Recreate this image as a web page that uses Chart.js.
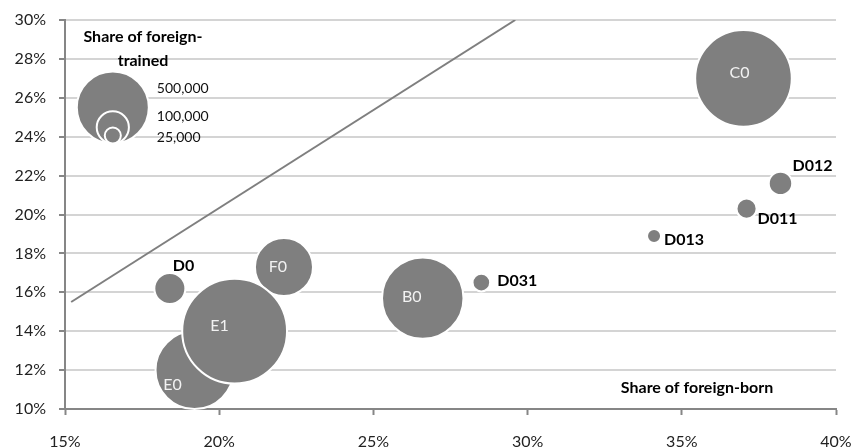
<!DOCTYPE html>
<html>
<head>
<meta charset="utf-8">
<script src="https://cdn.jsdelivr.net/npm/chart.js@4.4.1/dist/chart.umd.min.js"></script>
<style>
  html, body { margin: 0; padding: 0; background: #fff; }
  #wrap { width: 856px; height: 448px; }
</style>
</head>
<body>
<div id="wrap"><canvas id="chart" width="856" height="448"></canvas></div>
<script>
// Regions: share of foreign-born (x, %), share of foreign-trained (y, %), workforce size
const regions = ['C0', 'D012', 'D011', 'D013', 'D031', 'B0', 'D0', 'F0', 'E0', 'E1'];
const foreignBorn = [37.0, 38.2, 37.1, 34.1, 28.5, 26.6, 18.4, 22.1, 19.2, 20.5];
const foreignTrained = [27.0, 21.6, 20.3, 18.9, 16.5, 15.7, 16.2, 17.3, 12.0, 14.0];
const sizes = [900000, 53000, 39000, 19000, 30000, 640000, 93000, 325000, 587000, 1060000];

// size key (top left)
const keySizes = [500000, 100000, 25000];
const keyLabels = ['500,000', '100,000', '25,000'];
const keyX = [16.55, 16.55, 16.55];
const keyY = [25.5, 24.48, 24.06];

// reference line
const refX = [15.2, 29.6];
const refY = [15.5, 30];

// axis ranges / ticks
const xMin = 15, xMax = 40, xStep = 5;
const yMin = 10, yMax = 30, yStep = 2;

// label placement, relative to bubble centre (px)
const insideLabel = [true, false, false, false, false, true, false, true, true, true];
const labelOffsets = [[-4, -6], [12, -18], [11, 10], [10, 4], [16, -2], [-11, -1], [3, -23], [-6, 0], [-22, 15], [-15, -5]];
const keyLabelOffsets = [[44, -19], [44, -11], [44, 2]];

const GREY = '#7f7f7f';
const AXIS = '#868686';
const R_REF = 36; // radius of the 500,000 bubble
const radiusOf = s => R_REF * Math.sqrt(s / 500000);

const annotate = {
  id: 'annotate',
  afterDatasetsDraw(chart) {
    const ctx = chart.ctx;
    const a = chart.chartArea;
    ctx.save();
    ctx.textBaseline = 'middle';

    // bubble labels
    chart.getDatasetMeta(0).data.forEach((pt, i) => {
      const [dx, dy] = labelOffsets[i];
      if (insideLabel[i]) {
        ctx.fillStyle = '#f2f2f2';
        ctx.font = '16px Lato';
        ctx.textAlign = 'center';
      } else {
        ctx.fillStyle = '#000';
        ctx.font = 'bold 16px Lato';
        ctx.textAlign = 'left';
      }
      ctx.fillText(regions[i], pt.x + dx, pt.y + dy);
    });

    // key labels
    ctx.fillStyle = '#111';
    ctx.font = '14px Lato';
    ctx.textAlign = 'left';
    chart.getDatasetMeta(1).data.forEach((pt, i) => {
      const [dx, dy] = keyLabelOffsets[i];
      ctx.fillText(keyLabels[i], pt.x + dx, pt.y + dy);
    });

    // axis titles inside the plot
    ctx.fillStyle = '#000';
    ctx.font = 'bold 16px Lato';
    ctx.textAlign = 'center';
    ctx.fillText('Share of foreign-born', a.right - 139, a.bottom - 21);
    ctx.fillText('Share of foreign-', a.left + 78, a.top + 17);
    ctx.fillText('trained', a.left + 78, a.top + 41);
    ctx.restore();
  }
};

new Chart(document.getElementById('chart'), {
  type: 'bubble',
  data: {
    datasets: [
      {
        data: regions.map((r, i) => ({ x: foreignBorn[i], y: foreignTrained[i], r: radiusOf(sizes[i]) })),
        backgroundColor: GREY,
        borderColor: '#fff',
        borderWidth: 2,
        clip: false,
        order: 1
      },
      {
        data: keySizes.map((s, i) => ({ x: keyX[i], y: keyY[i], r: radiusOf(s) })),
        backgroundColor: GREY,
        borderColor: '#fff',
        borderWidth: 2,
        clip: false,
        order: 2
      },
      {
        type: 'line',
        data: refX.map((x, i) => ({ x: x, y: refY[i] })),
        borderColor: GREY,
        borderWidth: 2,
        pointRadius: 0,
        order: 3
      }
    ]
  },
  options: {
    responsive: false,
    animation: false,
    events: [],
    layout: { autoPadding: false, padding: { left: 0, top: 20, right: 20, bottom: 0 } },
    plugins: { legend: { display: false }, tooltip: { enabled: false } },
    scales: {
      x: {
        type: 'linear',
        min: xMin, max: xMax,
        afterFit: s => { s.height = 39; s.paddingLeft = 0; s.paddingRight = 0; },
        ticks: {
          stepSize: xStep,
          padding: 17,
          color: '#222',
          font: { family: 'Lato', size: 16 },
          callback: v => v + '%',
          maxRotation: 0
        },
        grid: { drawOnChartArea: false, drawTicks: true, tickLength: 6, tickColor: AXIS, tickWidth: 2 },
        border: { color: AXIS, width: 2 }
      },
      y: {
        type: 'linear',
        min: yMin, max: yMax,
        afterFit: s => { s.width = 65; s.paddingTop = 0; s.paddingBottom = 0; },
        ticks: {
          stepSize: yStep,
          padding: 13,
          color: '#222',
          font: { family: 'Lato', size: 16 },
          callback: v => v + '%'
        },
        grid: {
          color: '#d4d4d4',
          lineWidth: 2,
          tickLength: 6,
          tickColor: AXIS,
          tickWidth: 2,
          tickBorderDash: [],
          borderDash: [2, 1]
        },
        border: { color: AXIS, width: 2, dash: [] }
      }
    }
  },
  plugins: [annotate]
});
</script>
</body>
</html>
